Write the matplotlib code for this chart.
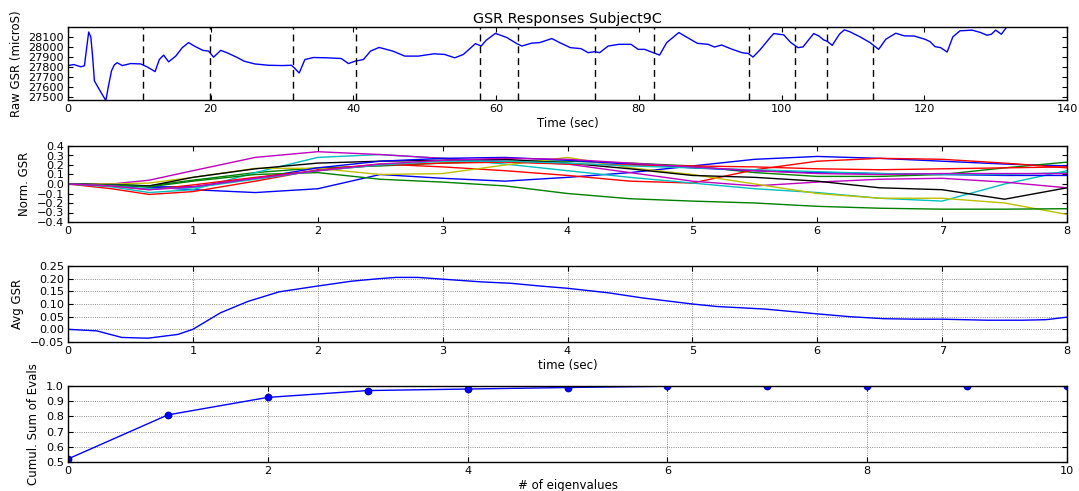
import matplotlib
matplotlib.use("Agg")
import matplotlib.pyplot as plt
from matplotlib.ticker import MultipleLocator

# ---------------- data ----------------
raw_time = [0, 0.8, 1.8, 2.3, 2.6, 2.9, 3.2, 3.45, 3.7, 4.5, 5.3, 5.7, 6.1, 6.5, 6.9, 7.6,
            8.8, 10.2, 11.2, 12.2, 12.8, 13.4, 14.1, 15.1, 16.0, 16.9, 17.7, 18.9, 19.7,
            20.4, 21.4, 22.3, 23.8, 24.7, 26.2, 28.1, 30.0, 31.3, 31.7, 32.4, 33.2, 34.4,
            36.3, 38.3, 39.3, 40.2, 41.4, 42.4, 43.6, 45.5, 47.2, 49.1, 51.3, 52.8, 54.2,
            55.4, 57.1, 57.9, 58.6, 59.9, 61.5, 62.9, 63.6, 65.0, 66.1, 67.8, 68.9, 70.4,
            71.9, 72.9, 73.8, 74.5, 75.7, 77.2, 78.9, 79.9, 80.8, 81.8, 82.9, 83.9, 85.6,
            86.8, 88.2, 89.7, 90.6, 91.6, 93.1, 94.5, 95.3, 96.0, 97.0, 98.4, 98.9, 100.3,
            101.3, 102.3, 103.0, 104.5, 105.2, 105.9, 106.4, 107.1, 108.1, 108.8, 109.5,
            111.0, 112.4, 113.6, 114.6, 116.0, 117.2, 118.6, 120.1, 120.8, 121.5, 122.3,
            123.2, 124.0, 125.0, 126.7, 127.9, 128.8, 129.4, 130.0, 130.8, 131.5, 132.0]
raw_gsr = [27812, 27822, 27800, 27810, 27980, 28145, 28095, 27900, 27660, 27560, 27465,
           27620, 27760, 27820, 27840, 27812, 27832, 27828, 27795, 27752, 27872, 27916,
           27849, 27906, 27989, 28040, 28006, 27963, 27956, 27895, 27963, 27939, 27889,
           27855, 27828, 27815, 27812, 27815, 27790, 27738, 27872, 27892, 27889, 27882,
           27832, 27855, 27872, 27956, 27992, 27956, 27906, 27906, 27929, 27922, 27889,
           27922, 28030, 28006, 28063, 28132, 28090, 28030, 28006, 28035, 28040, 28080,
           28040, 27990, 27980, 27940, 27950, 27940, 28006, 28023, 28023, 27973, 27973,
           27946, 27916, 28040, 28140, 28090, 28033, 28023, 27996, 28016, 27973, 27939,
           27933, 27896, 27970, 28090, 28130, 28117, 28040, 27990, 27997, 28130, 28107,
           28067, 28053, 28013, 28123, 28167, 28150, 28097, 28040, 27973, 28073, 28133,
           28107, 28105, 28073, 28050, 28000, 27990, 27946, 28097, 28157, 28164, 28140,
           28113, 28123, 28164, 28123, 28190, 28230]
stim_onsets = [10.45, 19.9, 31.5, 40.3, 57.8, 63.05, 73.9, 82.1, 95.5, 101.9, 106.3, 112.8]

resp_time = [0, 0.35, 0.65, 1, 1.5, 2, 2.5, 3, 3.5, 4, 4.5, 5, 5.5, 6, 6.5, 7, 7.5, 8]
resp_blue1 = [0, -0.01, -0.03, -0.06, -0.09, -0.05, 0.10, 0.06, 0.03, 0.07, 0.12, 0.19, 0.26, 0.29, 0.27, 0.24, 0.21, 0.19]
resp_green1 = [0, 0.0, -0.02, 0.04, 0.12, 0.17, 0.19, 0.22, 0.24, 0.24, 0.22, 0.19, 0.12, 0.08, 0.08, 0.10, 0.17, 0.23]
resp_red1 = [0, -0.05, -0.11, -0.08, 0.03, 0.15, 0.21, 0.18, 0.14, 0.09, 0.03, 0.01, 0.15, 0.24, 0.27, 0.26, 0.22, 0.17]
resp_cyan1 = [0, -0.03, -0.09, -0.06, 0.12, 0.28, 0.31, 0.27, 0.21, 0.14, 0.07, 0.01, -0.05, -0.09, -0.15, -0.18, 0.0, 0.14]
resp_magenta1 = [0, 0.0, 0.04, 0.14, 0.28, 0.34, 0.31, 0.27, 0.24, 0.21, 0.12, 0.03, -0.02, 0.02, 0.05, 0.06, 0.02, -0.04]
resp_yellow = [0, 0.0, 0.01, 0.07, 0.165, 0.165, 0.10, 0.11, 0.20, 0.28, 0.17, 0.10, 0.0, -0.10, -0.15, -0.15, -0.20, -0.32]
resp_black = [0, -0.01, -0.02, 0.07, 0.16, 0.22, 0.24, 0.25, 0.26, 0.22, 0.16, 0.09, 0.07, 0.03, -0.04, -0.06, -0.16, -0.04]
resp_blue2 = [0, -0.01, -0.03, -0.03, 0.06, 0.17, 0.24, 0.27, 0.28, 0.25, 0.21, 0.17, 0.14, 0.12, 0.11, 0.10, 0.09, 0.09]
resp_green2 = [0, -0.01, -0.03, 0.03, 0.10, 0.12, 0.05, 0.02, -0.02, -0.10, -0.155, -0.18, -0.20, -0.235, -0.255, -0.265, -0.265, -0.26]
resp_red2 = [0, -0.02, -0.06, -0.01, 0.07, 0.14, 0.20, 0.22, 0.23, 0.21, 0.20, 0.19, 0.18, 0.16, 0.15, 0.16, 0.17, 0.18]
resp_cyan2 = [0, -0.02, -0.05, -0.04, 0.05, 0.14, 0.20, 0.24, 0.24, 0.22, 0.19, 0.17, 0.15, 0.13, 0.11, 0.10, 0.10, 0.12]
resp_magenta2 = [0, -0.02, -0.06, -0.03, 0.06, 0.14, 0.21, 0.25, 0.27, 0.26, 0.22, 0.18, 0.14, 0.11, 0.10, 0.11, 0.11, 0.11]

avg_time = [0, 0.23, 0.43, 0.64, 0.88, 1.0, 1.22, 1.44, 1.69, 2.0, 2.27, 2.49, 2.63, 2.8,
            3.0, 3.32, 3.54, 3.78, 4.0, 4.33, 4.6, 5.0, 5.2, 5.58, 6.0, 6.26, 6.53, 6.8,
            7.0, 7.36, 7.64, 7.83, 8.0]
avg_gsr = [0.0, -0.006, -0.032, -0.035, -0.02, 0.0, 0.065, 0.11, 0.148, 0.171, 0.19, 0.2,
           0.205, 0.205, 0.198, 0.187, 0.182, 0.171, 0.162, 0.144, 0.124, 0.10, 0.09, 0.08,
           0.061, 0.05, 0.042, 0.04, 0.04, 0.036, 0.036, 0.038, 0.048]

n_evals = [0, 1, 2, 3, 4, 5, 6, 7, 8, 9, 10]
cum_evals = [0.52, 0.81, 0.925, 0.97, 0.98, 0.99, 0.9985, 0.999, 0.9995, 0.9998, 1.0]

# ---------------- style ----------------
plt.rcParams['font.family'] = ['DejaVu Sans']
plt.rcParams['font.size'] = 8.4
plt.rcParams['axes.linewidth'] = 1.0

TICK_FS = 8.1
LABEL_FS = 8.5

fig = plt.figure(figsize=(10.79, 4.91), dpi=100)
W, H = 1079.0, 491.0
L, R = 68 / W, 1067 / W


def mk_axes(top_px, bot_px):
    return fig.add_axes([L, 1 - bot_px / H, R - L, (bot_px - top_px) / H])


def style(ax):
    ax.tick_params(direction='in', length=3.5, width=0.8, top=True, right=True,
                   labelsize=TICK_FS, pad=3)


ax1 = mk_axes(27, 100)
ax2 = mk_axes(146, 222)
ax3 = mk_axes(266, 342)
ax4 = mk_axes(386, 462)
for a in (ax1, ax2, ax3, ax4):
    style(a)

# Panel 1
ax1.plot(raw_time, raw_gsr, color='#0000ff', lw=1.0)
for s in stim_onsets:
    ax1.axvline(s, color='k', lw=1.0, ls=(0, (5, 3.5)))
ax1.set_xlim(0, 140)
ax1.set_ylim(27470, 28195)
ax1.xaxis.set_major_locator(MultipleLocator(20))
ax1.yaxis.set_major_locator(MultipleLocator(100))
ax1.set_xlabel('Time (sec)', labelpad=2, fontsize=LABEL_FS)
ax1.set_ylabel('Raw GSR (microS)', fontsize=LABEL_FS)
ax1.set_title('GSR Responses Subject9C', fontsize=10.4, pad=3)

# Panel 2
colors = ['#0000ff', '#008000', '#ff0000', '#00bfbf', '#bf00bf', '#bfbf00', '#000000',
          '#0000ff', '#008000', '#ff0000', '#00bfbf', '#bf00bf']
series = [resp_blue1, resp_green1, resp_red1, resp_cyan1, resp_magenta1, resp_yellow,
          resp_black, resp_blue2, resp_green2, resp_red2, resp_cyan2, resp_magenta2]
for c, s in zip(colors, series):
    ax2.plot(resp_time, s, color=c, lw=1.0)
ax2.set_xlim(0, 8)
ax2.set_ylim(-0.4, 0.4)
ax2.yaxis.set_major_locator(MultipleLocator(0.1))
ax2.set_ylabel('Norm. GSR', fontsize=LABEL_FS)

# Panel 3
ax3.plot(avg_time, avg_gsr, color='#0000ff', lw=1.0)
ax3.set_xlim(0, 8)
ax3.set_ylim(-0.05, 0.25)
ax3.yaxis.set_major_locator(MultipleLocator(0.05))
ax3.grid(True, color='0.4', ls=':', lw=0.6)
ax3.set_xlabel('time (sec)', labelpad=2, fontsize=LABEL_FS)
ax3.set_ylabel('Avg GSR', fontsize=LABEL_FS)

# Panel 4
ax4.plot(n_evals, cum_evals, color='#0000ff', lw=1.0, marker='o', ms=4.6,
         markerfacecolor='#0000ff', markeredgecolor='#0000cc')
ax4.set_xlim(0, 10)
ax4.set_ylim(0.5, 1.0)
ax4.xaxis.set_major_locator(MultipleLocator(2))
ax4.yaxis.set_major_locator(MultipleLocator(0.1))
ax4.grid(True, color='0.4', ls=':', lw=0.6)
ax4.set_xlabel('# of eigenvalues', labelpad=2, fontsize=LABEL_FS)
ax4.set_ylabel('Cumul. Sum of Evals', fontsize=LABEL_FS)

fig.savefig('out.png', dpi=100)
